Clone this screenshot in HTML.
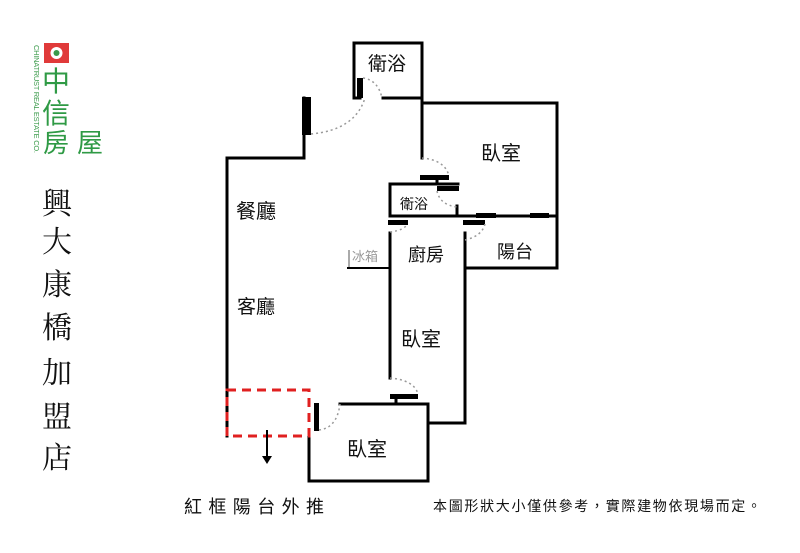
<!DOCTYPE html>
<html><head><meta charset="utf-8"><style>
html,body{margin:0;padding:0;background:#fff;width:800px;height:553px;overflow:hidden}
svg{display:block}
.t{font-family:"Liberation Sans","Noto Sans CJK TC",sans-serif;fill:#111}
.s{font-family:"Liberation Serif","Noto Serif CJK SC",serif;fill:#111}
</style></head><body>
<svg width="800" height="553" viewBox="0 0 800 553" xmlns="http://www.w3.org/2000/svg">
<!-- logo -->
<rect x="44" y="43" width="25" height="20" fill="#e03a3a"/>
<circle cx="56.5" cy="53" r="6" fill="#fff"/>
<circle cx="56.5" cy="53" r="3" fill="#3a9a4a"/>
<text x="34" y="45" transform="rotate(90 34 45)" font-size="7.5" font-family="Liberation Sans,sans-serif" fill="#3a9a4a" textLength="108">CHINATRUST REAL ESTATE CO.</text>
<text x="56" y="91" text-anchor="middle" font-size="28" fill="#2f9a45" font-family="Liberation Sans,'Noto Sans CJK TC',sans-serif">中</text>
<text x="56" y="123" text-anchor="middle" font-size="28" fill="#2f9a45" font-family="Liberation Sans,'Noto Sans CJK TC',sans-serif">信</text>
<text x="73" y="152" text-anchor="middle" font-size="26" fill="#2f9a45" font-family="Liberation Sans,'Noto Sans CJK TC',sans-serif" textLength="60">房屋</text>
<!-- vertical title -->
<g class="s" font-size="30" text-anchor="middle">
<text x="57" y="214">興</text><text x="57" y="252">大</text><text x="57" y="295">康</text>
<text x="57" y="338">橋</text><text x="57" y="383">加</text><text x="57" y="427">盟</text><text x="57" y="468">店</text>
</g>
<!-- walls -->
<g stroke="#000" stroke-width="3" fill="none" stroke-linecap="square">
<polyline points="227,436 227,158 304,158 304,98"/>
<polyline points="360,98 354,98 354,43 422,43 422,98 383,98"/>
<polyline points="422,98 422,158"/>
<polyline points="422,103 557,103 557,268 465,268"/>
<polyline points="390,216 557,216"/>
<polyline points="390,216 390,184 458,184"/>
<line x1="437" y1="177" x2="437" y2="184"/>
<line x1="457" y1="206" x2="457" y2="216"/>
<polyline points="390,233 390,378"/>
<polyline points="465,233 465,423 428,423"/>
<polyline points="340,404 428,404 428,481 309,481 309,436"/>
<line x1="396" y1="397" x2="396" y2="404"/>
<line x1="348" y1="268" x2="390" y2="268" stroke-width="2"/>
</g>
<!-- thick jambs -->
<g fill="#000">
<rect x="302" y="97" width="9" height="38"/>
<rect x="357" y="78" width="6" height="20"/>
<rect x="420" y="175" width="29" height="5"/>
<rect x="437" y="186" width="22" height="5"/>
<rect x="388" y="220" width="20" height="5"/>
<rect x="463" y="220" width="22" height="5"/>
<rect x="476" y="213" width="20" height="5"/>
<rect x="530" y="213" width="19" height="5"/>
<rect x="390" y="394" width="28" height="5"/>
<rect x="314" y="403" width="5" height="28"/>
</g>
<!-- door arcs -->
<g stroke="#999" stroke-width="1.5" fill="none" stroke-dasharray="2,3">
<path d="M311,134 Q355,130 365,98"/>
<path d="M363,78 Q378,80 382,98"/>
<path d="M422,158 Q445,160 449,176"/>
<path d="M437,191 Q440,205 457,207"/>
<path d="M390,232 Q405,230 407,224"/>
<path d="M465,240 Q482,236 485,224"/>
<path d="M390,378 Q414,380 418,394"/>
<path d="M319,430 Q337,428 340,404"/>
</g>
<!-- red dashed -->
<path d="M227,390 L309,390 L309,436 L227,436 Z" fill="none" stroke="#e02020" stroke-width="3" stroke-dasharray="9,6"/>
<line x1="267" y1="430" x2="267" y2="458" stroke="#000" stroke-width="2"/>
<path d="M262,456 L267,464 L272,456 Z" fill="#000"/>
<!-- labels -->
<g class="t">
<text x="368" y="70" font-size="19">衛浴</text>
<text x="481" y="160" font-size="20">臥室</text>
<text x="400" y="209" font-size="14">衛浴</text>
<text x="236" y="218" font-size="20">餐廳</text>
<text x="408" y="261" font-size="18">廚房</text>
<text x="497" y="258" font-size="18">陽台</text>
<text x="237" y="313" font-size="19">客廳</text>
<text x="401" y="346" font-size="20">臥室</text>
<text x="347" y="456" font-size="20">臥室</text>
<text x="184" y="513" font-size="18" textLength="140">紅框陽台外推</text>
<text x="433" y="511" font-size="14" textLength="328">本圖形狀大小僅供參考，實際建物依現場而定。</text>
</g>
<text x="352" y="261" font-size="13" fill="#999" font-family="Liberation Sans,'Noto Sans CJK TC',sans-serif">冰箱</text>
<line x1="349" y1="250" x2="349" y2="267" stroke="#aaa" stroke-width="2"/>
</svg>
</body></html>
